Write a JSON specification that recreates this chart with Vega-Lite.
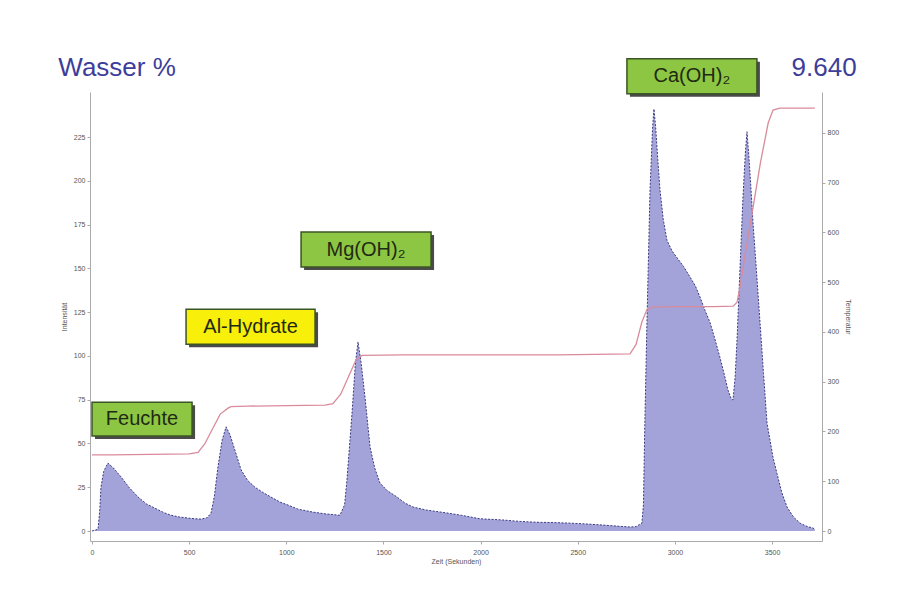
{
  "$schema": "https://vega.github.io/schema/vega-lite/v6.json",
  "width": 732,
  "height": 449,
  "autosize": "none",
  "padding": {"left": 90, "top": 92, "right": 85, "bottom": 73},
  "background": "white",
  "datasets": {
    "intens": [
      {"t": 0, "v": 0}, {"t": 15, "v": 0.5}, {"t": 31, "v": 1}, {"t": 40, "v": 12}, {"t": 46, "v": 25}, {"t": 60, "v": 34}, {"t": 82, "v": 38.8}, {"t": 110, "v": 36}, {"t": 149, "v": 31}, {"t": 190, "v": 25}, {"t": 237, "v": 19.4}, {"t": 280, "v": 15.5}, {"t": 324, "v": 13}, {"t": 370, "v": 10.5}, {"t": 407, "v": 9}, {"t": 450, "v": 8}, {"t": 494, "v": 7.4}, {"t": 530, "v": 7}, {"t": 561, "v": 6.8}, {"t": 590, "v": 7.5}, {"t": 612, "v": 10}, {"t": 630, "v": 20}, {"t": 648, "v": 36.5}, {"t": 670, "v": 52}, {"t": 690, "v": 59.5}, {"t": 710, "v": 55}, {"t": 736, "v": 46}, {"t": 767, "v": 35}, {"t": 800, "v": 29}, {"t": 839, "v": 25}, {"t": 880, "v": 22}, {"t": 921, "v": 19.4}, {"t": 968, "v": 16.5}, {"t": 1009, "v": 14.8}, {"t": 1060, "v": 12.5}, {"t": 1137, "v": 10.8}, {"t": 1200, "v": 9.8}, {"t": 1276, "v": 9}, {"t": 1300, "v": 15}, {"t": 1312, "v": 29}, {"t": 1338, "v": 67}, {"t": 1355, "v": 95}, {"t": 1369, "v": 108}, {"t": 1385, "v": 96}, {"t": 1405, "v": 76.5}, {"t": 1431, "v": 48}, {"t": 1455, "v": 36}, {"t": 1482, "v": 27.4}, {"t": 1520, "v": 23}, {"t": 1570, "v": 19.4}, {"t": 1610, "v": 16}, {"t": 1652, "v": 13.7}, {"t": 1720, "v": 12}, {"t": 1827, "v": 10.3}, {"t": 1900, "v": 9}, {"t": 1997, "v": 7}, {"t": 2115, "v": 6.3}, {"t": 2200, "v": 5.5}, {"t": 2290, "v": 5}, {"t": 2380, "v": 4.8}, {"t": 2460, "v": 4.5}, {"t": 2550, "v": 4}, {"t": 2630, "v": 3.4}, {"t": 2700, "v": 2.8}, {"t": 2769, "v": 2.3}, {"t": 2800, "v": 2.5}, {"t": 2830, "v": 4.5}, {"t": 2838, "v": 15}, {"t": 2845, "v": 60}, {"t": 2856, "v": 119}, {"t": 2872, "v": 195}, {"t": 2885, "v": 230}, {"t": 2892, "v": 241}, {"t": 2900, "v": 232}, {"t": 2912, "v": 212}, {"t": 2923, "v": 195}, {"t": 2940, "v": 178}, {"t": 2959, "v": 166}, {"t": 2985, "v": 160}, {"t": 3011, "v": 156}, {"t": 3045, "v": 151}, {"t": 3078, "v": 145}, {"t": 3105, "v": 140}, {"t": 3129, "v": 133.6}, {"t": 3155, "v": 126}, {"t": 3181, "v": 119}, {"t": 3205, "v": 110}, {"t": 3232, "v": 99}, {"t": 3255, "v": 89}, {"t": 3273, "v": 80.5}, {"t": 3290, "v": 75.5}, {"t": 3299, "v": 74.8}, {"t": 3310, "v": 88}, {"t": 3320, "v": 110}, {"t": 3335, "v": 150}, {"t": 3350, "v": 190}, {"t": 3362, "v": 215}, {"t": 3371, "v": 228}, {"t": 3380, "v": 215}, {"t": 3390, "v": 198}, {"t": 3402, "v": 176}, {"t": 3420, "v": 148}, {"t": 3438, "v": 119}, {"t": 3456, "v": 90}, {"t": 3474, "v": 61.6}, {"t": 3505, "v": 42}, {"t": 3525, "v": 33}, {"t": 3550, "v": 22}, {"t": 3577, "v": 13.7}, {"t": 3610, "v": 8}, {"t": 3644, "v": 4.5}, {"t": 3680, "v": 2.6}, {"t": 3711, "v": 1.7}, {"t": 3720, "v": 1}
    ],
    "temp": [
      {"t": 0, "T": 153}, {"t": 100, "T": 153}, {"t": 300, "T": 154}, {"t": 500, "T": 155}, {"t": 546, "T": 158}, {"t": 580, "T": 175}, {"t": 620, "T": 205}, {"t": 660, "T": 235}, {"t": 700, "T": 247}, {"t": 715, "T": 250}, {"t": 800, "T": 251}, {"t": 1000, "T": 252}, {"t": 1200, "T": 253}, {"t": 1240, "T": 256}, {"t": 1280, "T": 275}, {"t": 1320, "T": 310}, {"t": 1360, "T": 345}, {"t": 1390, "T": 353}, {"t": 1600, "T": 354}, {"t": 2000, "T": 354}, {"t": 2400, "T": 354}, {"t": 2769, "T": 356}, {"t": 2800, "T": 375}, {"t": 2830, "T": 420}, {"t": 2856, "T": 445}, {"t": 2880, "T": 450}, {"t": 3000, "T": 451}, {"t": 3200, "T": 451}, {"t": 3300, "T": 452}, {"t": 3320, "T": 460}, {"t": 3335, "T": 490}, {"t": 3355, "T": 540}, {"t": 3380, "T": 600}, {"t": 3402, "T": 650}, {"t": 3440, "T": 740}, {"t": 3480, "T": 820}, {"t": 3505, "T": 846}, {"t": 3540, "T": 850}, {"t": 3720, "T": 850}
    ],
    "boxes": [
      {"name": "Feuchte", "x1": 0, "x2": 515, "y1": 54.2, "y2": 73.6, "xc": 257, "yc": 63.9},
      {"name": "Al-Hydrate", "x1": 484, "x2": 1148, "y1": 106.7, "y2": 126.7, "xc": 816, "yc": 116.7},
      {"name": "Mg(OH)₂", "x1": 1076, "x2": 1745, "y1": 150.7, "y2": 170.7, "xc": 1410, "yc": 160.7},
      {"name": "Ca(OH)₂", "x1": 2753, "x2": 3422, "y1": 249.7, "y2": 269.7, "xc": 3087, "yc": 259.7}
    ],
    "annot": [
      {"x": 3768, "y": 259.8, "label": "9.640"},
      {"x": 129, "y": 259.8, "label": "Wasser %"}
    ]
  },
  "layer": [
    {
      "layer": [
        {
          "data": {"name": "intens"},
          "mark": {"type": "area", "color": "#a3a3da", "opacity": 1},
          "encoding": {
            "x": {"field": "t", "type": "quantitative", "scale": {"domain": [-10.3, 3757], "nice": false, "zero": false}, "axis": {"title": "Zeit (Sekunden)", "values": [0, 500, 1000, 1500, 2000, 2500, 3000, 3500], "format": "d", "labelPadding": 4, "titlePadding": 2}},
            "y": {"field": "v", "type": "quantitative", "scale": {"domain": [-5.7, 250.7], "nice": false, "zero": false}, "axis": {"orient": "left", "title": "Intensität", "values": [0, 25, 50, 75, 100, 125, 150, 175, 200, 225], "titlePadding": 6}}
          }
        },
        {
          "data": {"name": "intens"},
          "mark": {"type": "line", "color": "#3a3a80", "strokeWidth": 1, "strokeDash": [2, 1.5]},
          "encoding": {
            "x": {"field": "t", "type": "quantitative", "scale": {"domain": [-10.3, 3757], "nice": false, "zero": false}, "axis": {"title": "Zeit (Sekunden)", "values": [0, 500, 1000, 1500, 2000, 2500, 3000, 3500], "format": "d", "labelPadding": 4, "titlePadding": 2}},
            "y": {"field": "v", "type": "quantitative", "scale": {"domain": [-5.7, 250.7], "nice": false, "zero": false}, "axis": {"orient": "left", "title": "Intensität", "values": [0, 25, 50, 75, 100, 125, 150, 175, 200, 225], "titlePadding": 6}}
          }
        },
        {
          "data": {"name": "boxes"},
          "mark": {"type": "rect", "color": "#4a4a4a", "xOffset": 3, "x2Offset": 3, "yOffset": 3, "y2Offset": 3},
          "encoding": {
            "x": {"field": "x1", "type": "quantitative", "scale": {"domain": [-10.3, 3757], "nice": false, "zero": false}, "axis": {"title": "Zeit (Sekunden)", "values": [0, 500, 1000, 1500, 2000, 2500, 3000, 3500], "format": "d", "labelPadding": 4, "titlePadding": 2}},
            "x2": {"field": "x2"},
            "y": {"field": "y1", "type": "quantitative", "scale": {"domain": [-5.7, 250.7], "nice": false, "zero": false}, "axis": {"orient": "left", "title": "Intensität", "values": [0, 25, 50, 75, 100, 125, 150, 175, 200, 225], "titlePadding": 6}},
            "y2": {"field": "y2"}
          }
        },
        {
          "data": {"name": "boxes"},
          "mark": {"type": "rect", "stroke": "#3b5526", "strokeWidth": 1.5},
          "encoding": {
            "x": {"field": "x1", "type": "quantitative", "scale": {"domain": [-10.3, 3757], "nice": false, "zero": false}, "axis": {"title": "Zeit (Sekunden)", "values": [0, 500, 1000, 1500, 2000, 2500, 3000, 3500], "format": "d", "labelPadding": 4, "titlePadding": 2}},
            "x2": {"field": "x2"},
            "y": {"field": "y1", "type": "quantitative", "scale": {"domain": [-5.7, 250.7], "nice": false, "zero": false}, "axis": {"orient": "left", "title": "Intensität", "values": [0, 25, 50, 75, 100, 125, 150, 175, 200, 225], "titlePadding": 6}},
            "y2": {"field": "y2"},
            "fill": {"field": "name", "type": "nominal", "scale": {"domain": ["Feuchte", "Al-Hydrate", "Mg(OH)₂", "Ca(OH)₂"], "range": ["#8dc642", "#f8ef0a", "#8dc642", "#8dc642"]}, "legend": null}
          }
        },
        {
          "data": {"name": "boxes"},
          "mark": {"type": "text", "font": "Liberation Sans", "fontSize": 20, "color": "#1f2a14", "align": "center", "baseline": "middle"},
          "encoding": {
            "x": {"field": "xc", "type": "quantitative", "scale": {"domain": [-10.3, 3757], "nice": false, "zero": false}, "axis": {"title": "Zeit (Sekunden)", "values": [0, 500, 1000, 1500, 2000, 2500, 3000, 3500], "format": "d", "labelPadding": 4, "titlePadding": 2}},
            "y": {"field": "yc", "type": "quantitative", "scale": {"domain": [-5.7, 250.7], "nice": false, "zero": false}, "axis": {"orient": "left", "title": "Intensität", "values": [0, 25, 50, 75, 100, 125, 150, 175, 200, 225], "titlePadding": 6}},
            "text": {"field": "name"}
          }
        },
        {
          "data": {"name": "annot"},
          "mark": {"type": "text", "font": "Liberation Sans", "fontSize": 26, "color": "#3d3d9a", "align": "center", "baseline": "alphabetic"},
          "encoding": {
            "x": {"field": "x", "type": "quantitative", "scale": {"domain": [-10.3, 3757], "nice": false, "zero": false}, "axis": {"title": "Zeit (Sekunden)", "values": [0, 500, 1000, 1500, 2000, 2500, 3000, 3500], "format": "d", "labelPadding": 4, "titlePadding": 2}},
            "y": {"field": "y", "type": "quantitative", "scale": {"domain": [-5.7, 250.7], "nice": false, "zero": false}, "axis": {"orient": "left", "title": "Intensität", "values": [0, 25, 50, 75, 100, 125, 150, 175, 200, 225], "titlePadding": 6}},
            "text": {"field": "label"}
          }
        }
      ]
    },
    {
      "data": {"name": "temp"},
      "mark": {"type": "line", "color": "#d98b9b", "strokeWidth": 1.3},
      "encoding": {
        "x": {"field": "t", "type": "quantitative", "scale": {"domain": [-10.3, 3757], "nice": false, "zero": false}, "axis": {"title": "Zeit (Sekunden)", "values": [0, 500, 1000, 1500, 2000, 2500, 3000, 3500], "format": "d", "labelPadding": 4, "titlePadding": 2}},
        "y": {"field": "T", "type": "quantitative", "scale": {"domain": [-20.1, 882.4], "nice": false, "zero": false}, "axis": {"orient": "right", "title": "Temperatur", "values": [0, 100, 200, 300, 400, 500, 600, 700, 800], "titlePadding": 6}}
      }
    }
  ],
  "resolve": {"scale": {"y": "independent"}},
  "config": {
    "view": {"stroke": null},
    "axis": {"labelFontSize": 7, "labelColor": "#555555", "labelFont": "Liberation Sans", "titleFont": "Liberation Sans", "titleFontSize": 7, "titleFontWeight": "normal", "titleColor": "#555555", "domainColor": "#aaaaaa", "tickColor": "#aaaaaa", "tickSize": 3, "grid": false}
  }
}
